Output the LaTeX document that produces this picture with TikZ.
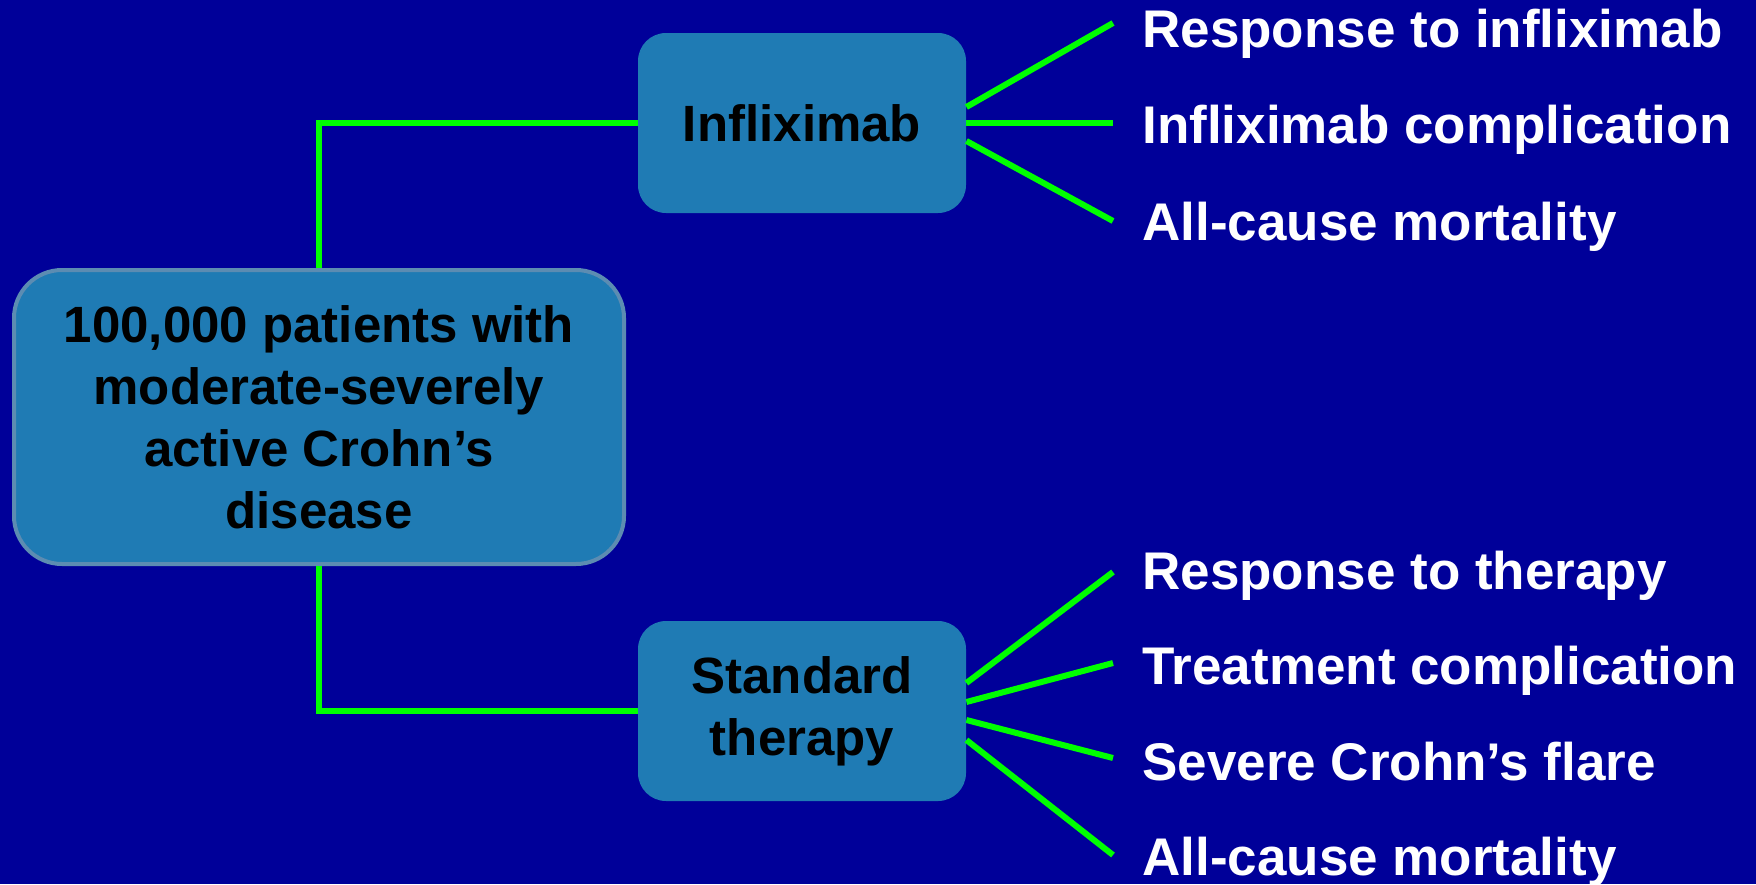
\documentclass[tikz,border=0pt]{standalone}
\usepackage{fontspec}
\setmainfont{Liberation Sans}
\usetikzlibrary{calc}
\definecolor{slidebg}{RGB}{0,0,153}
\definecolor{boxfill}{RGB}{31,123,180}
\definecolor{boxedge}{RGB}{92,140,178}
\definecolor{branchgreen}{RGB}{0,255,0}
\tikzset{
  mainbox/.style={fill=boxfill, draw=boxedge, line width=2pt, rounded corners=24pt,
    minimum width=305pt, minimum height=147pt, align=center, text=black,
    font=\fontsize{25.5}{31}\selectfont\bfseries},
  armbox/.style={fill=boxfill, rounded corners=14pt, minimum width=164pt,
    minimum height=90pt, align=center, text=black,
    font=\fontsize{25.5}{31}\selectfont\bfseries},
  outcome/.style={anchor=base west, inner sep=0pt, text=white,
    font=\fontsize{26.5}{30}\selectfont\bfseries},
  trunk/.style={draw=branchgreen, line width=3pt},
  branch/.style={draw=branchgreen, line width=3pt},
}
\begin{document}
\begin{tikzpicture}[x=0.5pt, y=-0.5pt]
  \fill[slidebg] (0,0) rectangle (1756,884);
  \useasboundingbox (0,0) rectangle (1756,884);
  \clip (0,0) rectangle (1756,884);

  \node[mainbox] (Pop) at (319,417) {100,000 patients with\\moderate-severely\\active Crohn's\\disease};
  \node[armbox] (Inflix) at (802,123) {Infliximab};
  \node[armbox] (Std) at (802,711) {Standard\\therapy};
  \draw[trunk] (Pop.north) |- (Inflix.west);
  \draw[trunk] (Pop.south) |- (Std.west);

  % infliximab outcomes
  \node[outcome] (InfResp) at (1142,47) {Response to infliximab};
  \node[outcome] (InfComp) at (1142,143) {Infliximab complication};
  \node[outcome] (InfDeath) at (1142,240) {All-cause mortality};
  \coordinate (InfRespEnd) at (1113,23);
  \coordinate (InfCompEnd) at (1113,123);
  \coordinate (InfDeathEnd) at (1113,221);
  \draw[branch] ($(Inflix.east)+(0,-16)$) -- (InfRespEnd);
  \draw[branch] (Inflix.east) -- (InfCompEnd);
  \draw[branch] ($(Inflix.east)+(0,18)$) -- (InfDeathEnd);

  % standard therapy outcomes
  \node[outcome] (StdResp) at (1142,589) {Response to therapy};
  \node[outcome] (StdComp) at (1142,684) {Treatment complication};
  \node[outcome] (StdFlare) at (1142,780) {Severe Crohn's flare};
  \node[outcome] (StdDeath) at (1142,875) {All-cause mortality};
  \coordinate (StdRespEnd) at (1113,572);
  \coordinate (StdCompEnd) at (1113,663);
  \coordinate (StdFlareEnd) at (1113,758);
  \coordinate (StdDeathEnd) at (1113,855);
  \draw[branch] ($(Std.east)+(0,-28)$) -- (StdRespEnd);
  \draw[branch] ($(Std.east)+(0,-9)$) -- (StdCompEnd);
  \draw[branch] ($(Std.east)+(0,9)$) -- (StdFlareEnd);
  \draw[branch] ($(Std.east)+(0,29)$) -- (StdDeathEnd);
\end{tikzpicture}
\end{document}
